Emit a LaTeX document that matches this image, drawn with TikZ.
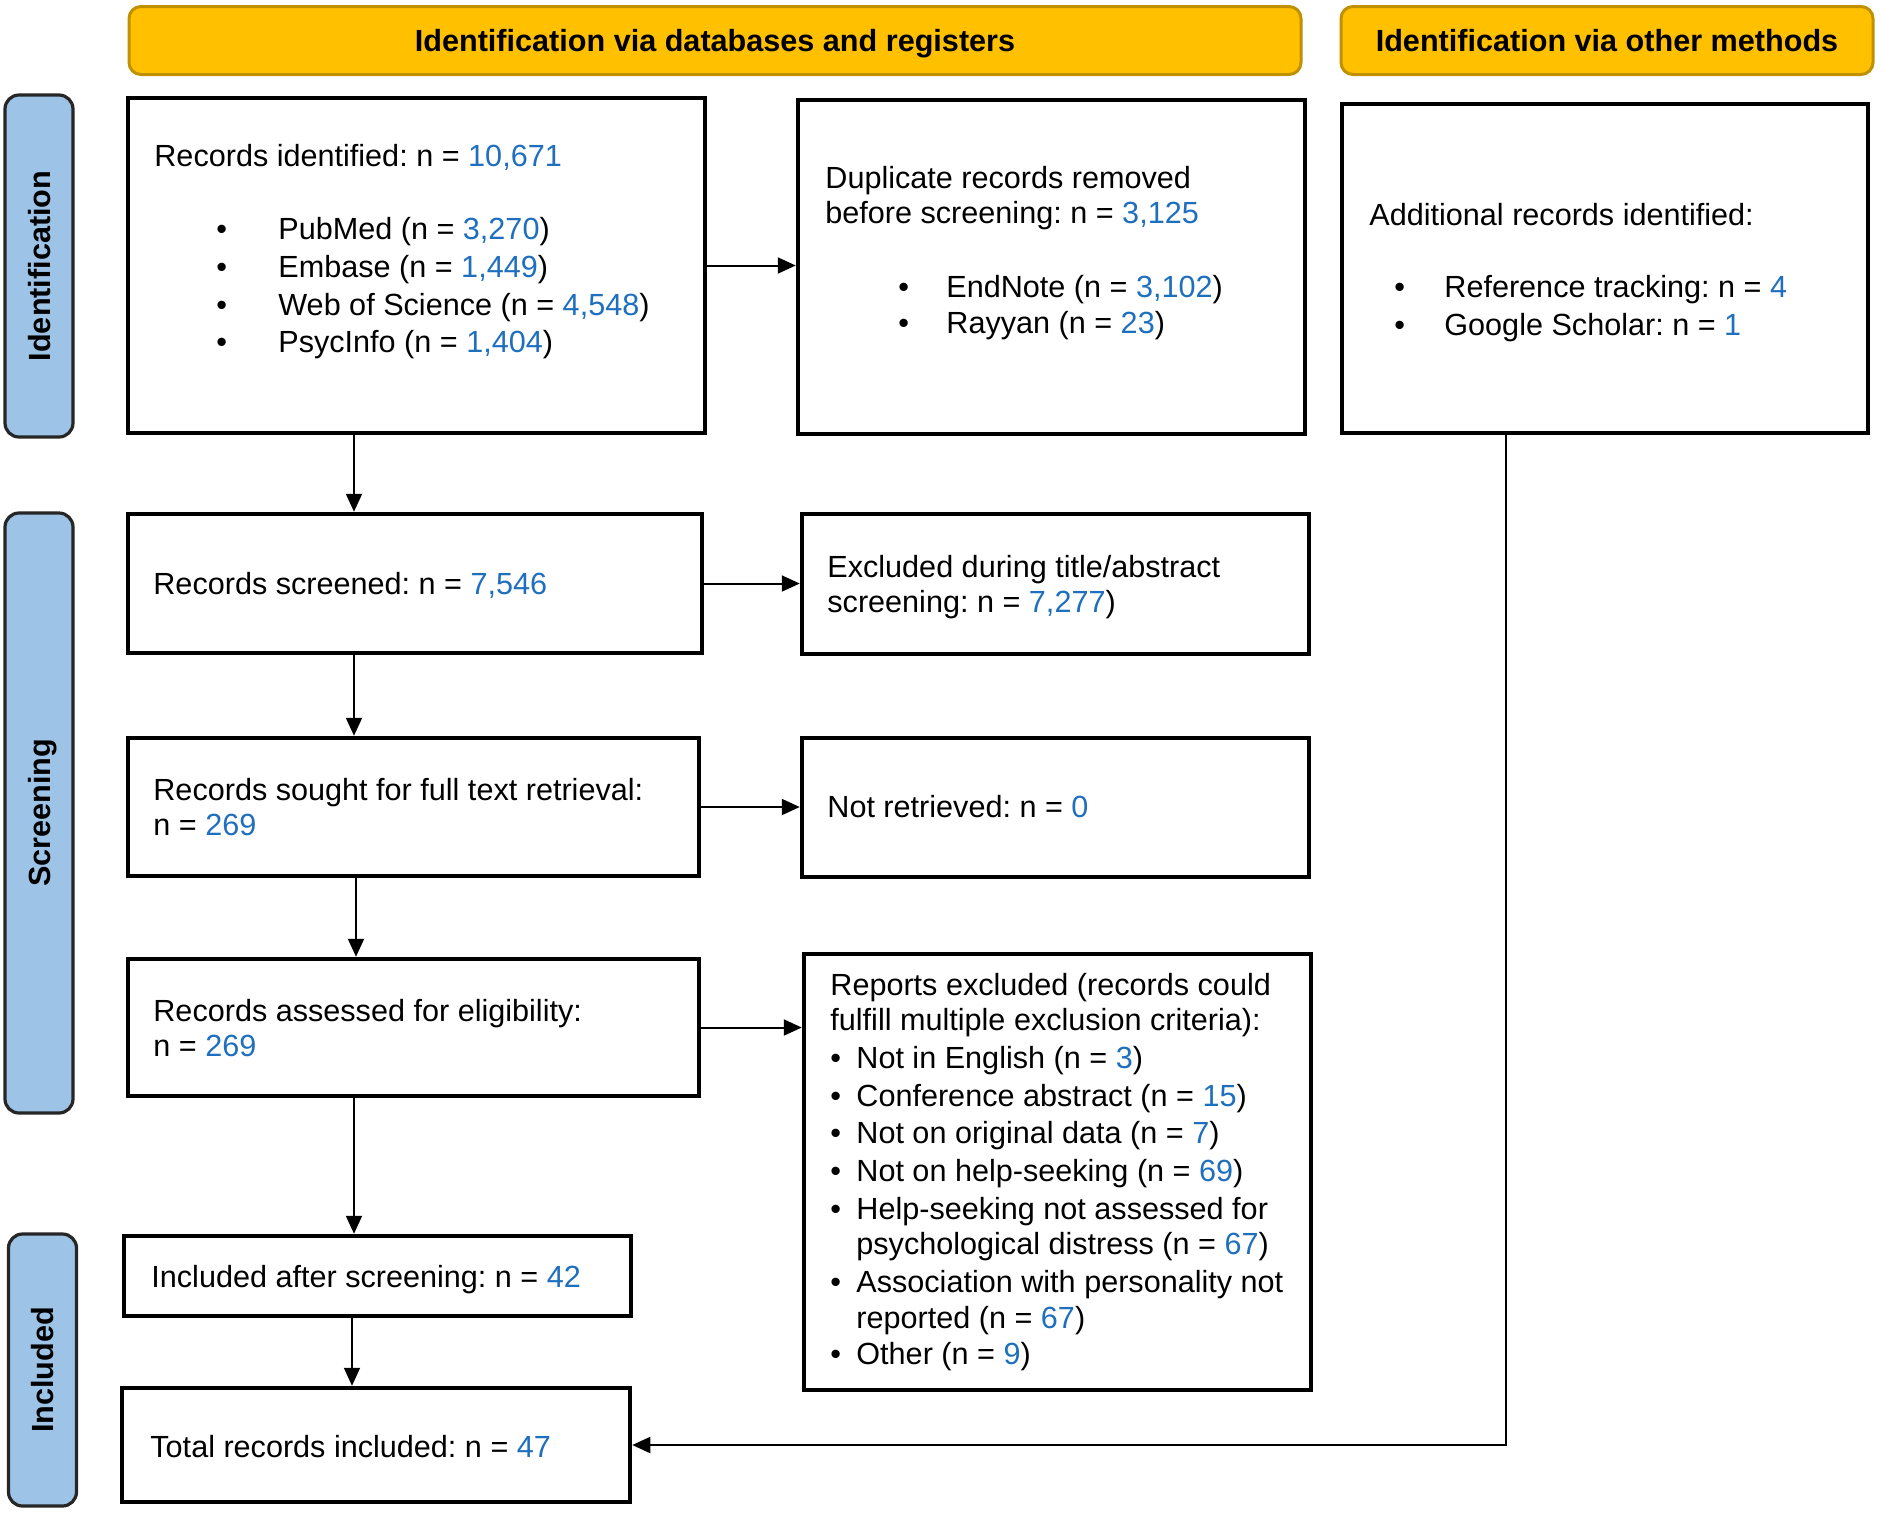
\documentclass[tikz,border=0pt]{standalone}
\usepackage{fontspec}
\setmainfont{Liberation Sans}
\usetikzlibrary{arrows.meta}
\definecolor{numblue}{HTML}{1F6FBF}
\definecolor{hdrfill}{HTML}{FFC000}
\definecolor{hdrdraw}{HTML}{BF9000}
\definecolor{sidefill}{HTML}{9DC3E6}
\newcommand{\nb}[1]{\textcolor{numblue}{#1}}
\begin{document}
\frenchspacing
\begin{tikzpicture}[x=0.5pt,y=-0.5pt,
  box/.style={draw=black, line width=2.25pt, fill=white, inner sep=0pt},
  hdr/.style={draw=hdrdraw, fill=hdrfill, line width=1.5pt, rounded corners=6pt, inner sep=0pt, text height=11pt, text depth=0pt, font=\fontsize{15.3}{18}\selectfont\bfseries},
  side/.style={draw=black!85, fill=sidefill, line width=1.6pt, rounded corners=7pt, inner sep=0pt},
  sidetxt/.style={rotate=90, inner sep=0pt, text height=11pt, text depth=0pt, font=\fontsize{15.3}{18}\selectfont\bfseries},
  txt/.style={anchor=base west, inner sep=0pt, font=\fontsize{15.3}{18}\selectfont},
  arr/.style={line width=1pt, -{Triangle[length=9pt,width=8pt]}},
]
\useasboundingbox (0,0) rectangle (1880,1512);

% headers
\node[hdr, minimum width=586pt, minimum height=34pt] (h1) at (715,40.5) {Identification via databases and registers};
\node[hdr, minimum width=266pt, minimum height=34pt] (h2) at (1607,40.5) {Identification via other methods};

% side labels
\node[side, minimum width=34pt, minimum height=171pt] (s1) at (39,266) {};
\node[sidetxt] (s1t) at (s1.center) {Identification};
\node[side, minimum width=34pt, minimum height=300pt] (s2) at (39,813) {};
\node[sidetxt] (s2t) at (s2.center) {Screening};
\node[side, minimum width=34pt, minimum height=136pt] (s3) at (42.5,1370) {};
\node[sidetxt] (s3t) at (s3.center) {Included};

% boxes
\node[box, minimum width=288.5pt, minimum height=167.5pt] (idb) at (416.5,265.5) {};
\node[box, minimum width=253.5pt, minimum height=167pt] (dup) at (1051.5,267) {};
\node[box, minimum width=263pt, minimum height=164.5pt] (add) at (1605,268.5) {};
\node[box, minimum width=287pt, minimum height=69.5pt] (scr) at (415,583.5) {};
\node[box, minimum width=253.5pt, minimum height=70pt] (excl) at (1055.5,584) {};
\node[box, minimum width=285.5pt, minimum height=69pt] (sought) at (413.5,807) {};
\node[box, minimum width=253.5pt, minimum height=69.5pt] (notret) at (1055.5,807.5) {};
\node[box, minimum width=285.5pt, minimum height=68.5pt] (assess) at (413.5,1027.5) {};
\node[box, minimum width=253.5pt, minimum height=218pt] (rep) at (1057.5,1172) {};
\node[box, minimum width=253.5pt, minimum height=40pt] (incl) at (377.5,1276) {};
\node[box, minimum width=254pt, minimum height=57pt] (total) at (376,1445) {};

% texts: records identified
\node[txt] (a0) at (154,166) {Records identified: n = \nb{10,671}};
\node[txt] (a1b) at (216,239) {•};
\node[txt] (a1) at (278,239) {PubMed (n = \nb{3,270})};
\node[txt] (a2b) at (216,277) {•};
\node[txt] (a2) at (278,277) {Embase (n = \nb{1,449})};
\node[txt] (a3b) at (216,315) {•};
\node[txt] (a3) at (278,315) {Web of Science (n = \nb{4,548})};
\node[txt] (a4b) at (216,352) {•};
\node[txt] (a4) at (278,352) {PsycInfo (n = \nb{1,404})};

% duplicates
\node[txt] (d0) at (825,188) {Duplicate records removed};
\node[txt] (d1) at (825,223) {before screening: n = \nb{3,125}};
\node[txt] (d2b) at (898,297) {•};
\node[txt] (d2) at (946,297) {EndNote (n = \nb{3,102})};
\node[txt] (d3b) at (898,333) {•};
\node[txt] (d3) at (946,333) {Rayyan (n = \nb{23})};

% additional
\node[txt] (o0) at (1369,225) {Additional records identified:};
\node[txt] (o1b) at (1394,297) {•};
\node[txt] (o1) at (1444,297) {Reference tracking: n = \nb{4}};
\node[txt] (o2b) at (1394,335) {•};
\node[txt] (o2) at (1444,335) {Google Scholar: n = \nb{1}};

% screening boxes
\node[txt] (sc0) at (153,594) {Records screened: n = \nb{7,546}};
\node[txt] (ex0) at (827,577) {Excluded during title/abstract};
\node[txt] (ex1) at (827,612) {screening: n = \nb{7,277})};
\node[txt] (so0) at (153,800) {Records sought for full text retrieval:};
\node[txt] (so1) at (153,835) {n = \nb{269}};
\node[txt] (nr0) at (827,817) {Not retrieved: n = \nb{0}};
\node[txt] (as0) at (153,1021) {Records assessed for eligibility:};
\node[txt] (as1) at (153,1056) {n = \nb{269}};

% reports excluded
\node[txt] (r0) at (830,995) {Reports excluded (records could};
\node[txt] (r1) at (830,1030) {fulfill multiple exclusion criteria):};
\node[txt] (r2b) at (830,1068) {•};
\node[txt] (r2) at (856,1068) {Not in English (n = \nb{3})};
\node[txt] (r3b) at (830,1106) {•};
\node[txt] (r3) at (856,1106) {Conference abstract (n = \nb{15})};
\node[txt] (r4b) at (830,1143) {•};
\node[txt] (r4) at (856,1143) {Not on original data (n = \nb{7})};
\node[txt] (r5b) at (830,1181) {•};
\node[txt] (r5) at (856,1181) {Not on help-seeking (n = \nb{69})};
\node[txt] (r6b) at (830,1219) {•};
\node[txt] (r6) at (856,1219) {Help-seeking not assessed for};
\node[txt] (r7) at (856,1254) {psychological distress (n = \nb{67})};
\node[txt] (r8b) at (830,1292) {•};
\node[txt] (r8) at (856,1292) {Association with personality not};
\node[txt] (r9) at (856,1328) {reported (n = \nb{67})};
\node[txt] (r10b) at (830,1364) {•};
\node[txt] (r10) at (856,1364) {Other (n = \nb{9})};

% included
\node[txt] (in0) at (151,1287) {Included after screening: n = \nb{42}};
\node[txt] (to0) at (150,1457) {Total records included: n = \nb{47}};

% connectors
\coordinate (colA) at (354,0);
\coordinate (colB) at (356,0);
\coordinate (colC) at (352,0);
\coordinate (colD) at (1506,0);
\draw[arr] (idb.east) -- (idb.east -| dup.west);
\draw[arr] (idb.south -| colA) -- (scr.north -| colA);
\draw[arr] (scr.east) -- (scr.east -| excl.west);
\draw[arr] (scr.south -| colA) -- (sought.north -| colA);
\draw[arr] (sought.east) -- (sought.east -| notret.west);
\draw[arr] (sought.south -| colB) -- (assess.north -| colB);
\draw[arr] (assess.east) -- (assess.east -| rep.west);
\draw[arr] (assess.south -| colA) -- (incl.north -| colA);
\draw[arr] (incl.south -| colC) -- (total.north -| colC);
\draw[arr] (add.south -| colD) |- (total.east);
\end{tikzpicture}
\end{document}
